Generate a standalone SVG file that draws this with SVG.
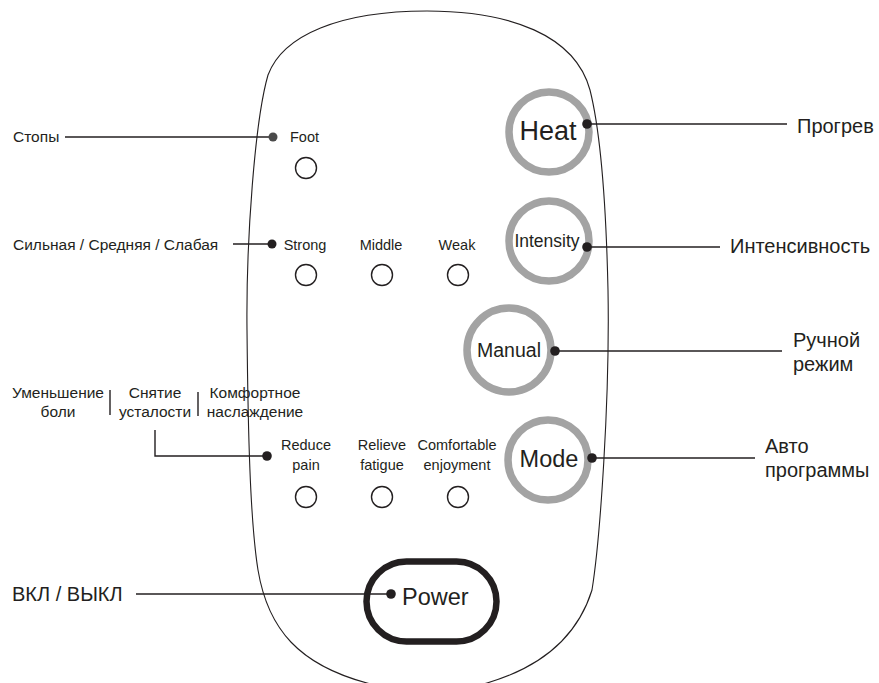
<svg xmlns="http://www.w3.org/2000/svg" width="879" height="683" viewBox="0 0 879 683">
<style>
text{font-family:"Liberation Sans",Arial,sans-serif;fill:#231f20}
.s{font-size:14.5px}
.l{font-size:15.5px}
.r{font-size:20px}
.c{text-anchor:middle}
.led{fill:none;stroke:#231f20;stroke-width:1.4}
.btn{fill:none;stroke:#a3a3a3;stroke-width:7.5}
.ln{fill:none;stroke:#231f20;stroke-width:1.4}
.dot{fill:#231f20}
</style>
<rect width="879" height="683" fill="#fff"/>
<g id="outline">
<path d="M 427,11 C 340,11 283,35 268,75 C 255,120 246,240 247,330 C 248,430 250,520 258,570 C 268,630 300,665 367,683 L 427,700 L 487,683 C 545,666 578,635 592,590 C 600,540 610,400 608,290 C 606,200 600,130 590,90 C 575,35 510,11 427,11 Z" fill="none" stroke="#231f20" stroke-width="1.1"/>
</g>
<g id="heat">
<circle class="btn" cx="549" cy="132" r="40"/>
<text x="548" y="140" class="c" font-size="27">Heat</text>
</g>
<g id="intensity">
<circle class="btn" cx="549" cy="241" r="40"/>
<text x="547" y="247" class="c" font-size="17.5">Intensity</text>
</g>
<g id="manual">
<circle class="btn" cx="509" cy="350" r="42"/>
<text x="509" y="357" class="c" font-size="19.5">Manual</text>
</g>
<g id="mode">
<circle class="btn" cx="548" cy="460" r="40"/>
<text x="549" y="467" class="c" font-size="23.5">Mode</text>
</g>
<g id="power">
<rect x="366.5" y="561.5" width="130" height="80" rx="40" fill="none" stroke="#231f20" stroke-width="6.5"/>
<text x="402" y="605" font-size="23.5">Power</text>
</g>
<g id="foot">
<text x="290" y="142" class="s">Foot</text>
<circle class="led" cx="306" cy="168" r="10.5"/>
</g>
<g id="strong">
<text x="305" y="250" class="s c">Strong</text>
<circle class="led" cx="306" cy="275" r="10.5"/>
</g>
<g id="middle">
<text x="381" y="250" class="s c">Middle</text>
<circle class="led" cx="382" cy="275" r="10.5"/>
</g>
<g id="weak">
<text x="457" y="250" class="s c">Weak</text>
<circle class="led" cx="458" cy="275" r="10.5"/>
</g>
<g id="reduce">
<text x="306" y="450" class="s c">Reduce</text>
<text x="306" y="470" class="s c">pain</text>
<circle class="led" cx="306" cy="497" r="10.5"/>
</g>
<g id="relieve">
<text x="382" y="450" class="s c">Relieve</text>
<text x="382" y="470" class="s c">fatigue</text>
<circle class="led" cx="382" cy="497" r="10.5"/>
</g>
<g id="comfortable">
<text x="457" y="450" class="s c" font-size="14">Comfortable</text>
<text x="457" y="470" class="s c">enjoyment</text>
<circle class="led" cx="458" cy="497" r="10.5"/>
</g>
<g id="label-stopy"><text x="13" y="142" class="l">Стопы</text></g>
<g id="label-strength"><text x="13" y="250" class="l">Сильная / Средняя / Слабая</text></g>
<g id="label-programs">
<text x="58" y="398" class="l c" font-size="15">Уменьшение</text>
<text x="58" y="417" class="l c" font-size="15">боли</text>
<line class="ln" x1="110" y1="390" x2="110" y2="415" stroke-width="1.1"/>
<text x="155" y="398" class="l c" font-size="15">Снятие</text>
<text x="155" y="417" class="l c" font-size="15">усталости</text>
<line class="ln" x1="198" y1="392" x2="198" y2="416" stroke-width="1.1"/>
<text x="255" y="398" class="l c" font-size="15">Комфортное</text>
<text x="255" y="417" class="l c" font-size="15">наслаждение</text>
</g>
<g id="label-heat"><text x="797" y="133" class="r">Прогрев</text></g>
<g id="label-intensity"><text x="730" y="253" class="r">Интенсивность</text></g>
<g id="label-manual">
<text x="793" y="347" class="r">Ручной</text>
<text x="793" y="371" class="r">режим</text>
</g>
<g id="label-mode">
<text x="765" y="453" class="r">Авто</text>
<text x="765" y="477" class="r">программы</text>
</g>
<g id="label-power"><text x="12" y="601" class="r">ВКЛ / ВЫКЛ</text></g>
<g id="connectors">
<line class="ln" x1="587" y1="124" x2="787" y2="124"/>
<line class="ln" x1="587" y1="247" x2="720" y2="247"/>
<line class="ln" x1="555" y1="351" x2="782" y2="351"/>
<line class="ln" x1="592" y1="458" x2="755" y2="458"/>
<line class="ln" x1="136" y1="594" x2="391" y2="594"/>
<line class="ln" x1="65" y1="137" x2="273" y2="137"/>
<line class="ln" x1="233" y1="244" x2="272" y2="244"/>
<polyline class="ln" points="155,430 155,456 267,456"/>
<circle class="dot" cx="587" cy="124" r="4.8"/>
<circle class="dot" cx="587" cy="247" r="4.8"/>
<circle class="dot" cx="555" cy="351" r="4.8"/>
<circle class="dot" cx="592" cy="458" r="4.8"/>
<circle class="dot" cx="391" cy="594" r="4.8"/>
<circle cx="273" cy="137" r="4.5" fill="#4a4a4a"/>
<circle class="dot" cx="272" cy="244" r="4.5"/>
<circle class="dot" cx="267" cy="456" r="4.8"/>
</g>
</svg>
